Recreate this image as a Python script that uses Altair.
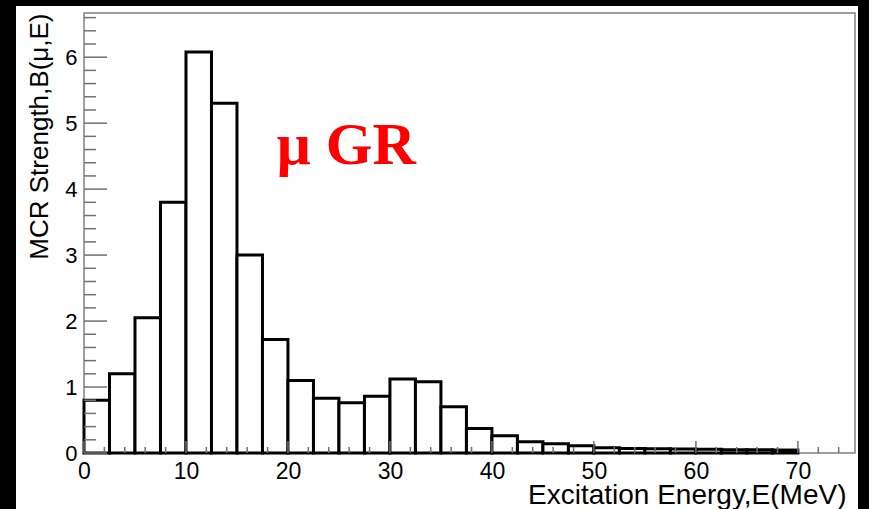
import altair as alt
import pandas as pd

# Histogram bins (MeV) and strengths
bin_lo = [0, 2.5, 5, 7.5, 10, 12.5, 15, 17.5, 20, 22.5, 25, 27.5, 30, 32.5,
          35, 37.5, 40, 42.5, 45, 47.5, 50, 52.5, 55, 57.5, 60, 62.5, 65, 67.5]
bin_hi = [2.5, 5, 7.5, 10, 12.5, 15, 17.5, 20, 22.5, 25, 27.5, 30, 32.5, 35,
          37.5, 40, 42.5, 45, 47.5, 50, 52.5, 55, 57.5, 60, 62.5, 65, 67.5, 70]
strength = [0.80, 1.20, 2.05, 3.80, 6.08, 5.30, 3.00, 1.72, 1.10, 0.83, 0.76, 0.86,
            1.12, 1.08, 0.70, 0.37, 0.26, 0.17, 0.14, 0.11, 0.08, 0.07, 0.065,
            0.06, 0.055, 0.05, 0.05, 0.045]

x_labels = [0, 10, 20, 30, 40, 50, 60, 70]
y_labels = [0, 1, 2, 3, 4, 5, 6]

annot_text = ["μ GR"]
annot_x = [18.9]
annot_y = [4.38]

W, H = 771, 440
xs = alt.Scale(domain=[0, 75.6], nice=False, zero=False)
ys = alt.Scale(domain=[0, 6.67], nice=False, zero=False)

FONT = "Liberation Sans"
xaxis = alt.Axis(values=x_labels, format="d", ticks=False, domain=False, grid=False,
                 labelFont=FONT, labelFontSize=23, labelColor="black", labelPadding=7,
                 labelFlush=False, labelOverlap=False,
                 title="Excitation Energy,E(MeV)", titleFont=FONT, titleFontSize=28,
                 titleFontWeight="normal", titleColor="black", titleAlign="right",
                 titleX=762, titleY=50, titleBaseline="alphabetic", zindex=1)
yaxis = alt.Axis(values=y_labels, format="d", ticks=False, domain=False, grid=False,
                 labelFont=FONT, labelFontSize=22, labelColor="black", labelPadding=7,
                 labelFlush=False, labelOverlap=False,
                 title="MCR Strength,B(μ,E)", titleFont=FONT, titleFontSize=26,
                 titleFontWeight="normal", titleColor="black", titleAngle=270,
                 titleAlign="right", titleBaseline="alphabetic", titleX=-37, titleY=0,
                 zindex=1)

df = pd.DataFrame({"lo": bin_lo, "hi": bin_hi, "b": strength, "z": [0] * len(strength)})
one = pd.DataFrame({"a": [0]})

bg = alt.Chart(one).mark_rect(fill="white").encode(
    x=alt.value(-68), x2=alt.value(774), y=alt.value(-7), y2=alt.value(496))

frame = alt.Chart(one).mark_rect(filled=False, stroke="#808080", strokeWidth=1.5).encode(
    x=alt.value(0), x2=alt.value(W), y=alt.value(0), y2=alt.value(H))

bars = alt.Chart(df).mark_rect(fill="white", stroke="black", strokeWidth=3).encode(
    x=alt.X("lo:Q", scale=xs, axis=xaxis), x2="hi:Q",
    y=alt.Y("b:Q", scale=ys, axis=yaxis), y2="z:Q")

y_major = pd.DataFrame({"v": y_labels})
y_minor = pd.DataFrame({"v": [i / 5 for i in range(1, 34) if i % 5 != 0]})
x_major = pd.DataFrame({"v": x_labels})
x_minor = pd.DataFrame({"v": [i for i in range(2, 76, 2) if i % 10 != 0]})

TC = "#707070"
ytick_maj = alt.Chart(y_major).mark_rule(color=TC, strokeWidth=1.5).encode(
    y=alt.Y("v:Q", scale=ys, axis=yaxis), x=alt.value(0), x2=alt.value(23))
ytick_min = alt.Chart(y_minor).mark_rule(color=TC, strokeWidth=1.5).encode(
    y=alt.Y("v:Q", scale=ys, axis=yaxis), x=alt.value(0), x2=alt.value(12))
xtick_maj = alt.Chart(x_major).mark_rule(color=TC, strokeWidth=1.5).encode(
    x=alt.X("v:Q", scale=xs, axis=xaxis), y=alt.value(H), y2=alt.value(H - 12))
xtick_min = alt.Chart(x_minor).mark_rule(color=TC, strokeWidth=1.5).encode(
    x=alt.X("v:Q", scale=xs, axis=xaxis), y=alt.value(H), y2=alt.value(H - 6))

annot = alt.Chart(pd.DataFrame({"t": annot_text, "x": annot_x, "y": annot_y})).mark_text(
    font="Liberation Serif", fontSize=60, fontWeight="bold", color="#ff0000",
    align="left", baseline="alphabetic").encode(
    x=alt.X("x:Q", scale=xs, axis=xaxis), y=alt.Y("y:Q", scale=ys, axis=yaxis), text="t:N")

chart = alt.layer(bg, frame, bars, ytick_maj, ytick_min, xtick_maj, xtick_min, annot).properties(
    width=W, height=H,
    autosize=alt.AutoSizeParams(type="none"),
    padding={"left": 84, "top": 13, "right": 14, "bottom": 56},
    background="black",
).configure_view(strokeWidth=0)

chart.save("out.html", embed_options={"renderer": "svg", "actions": False})
